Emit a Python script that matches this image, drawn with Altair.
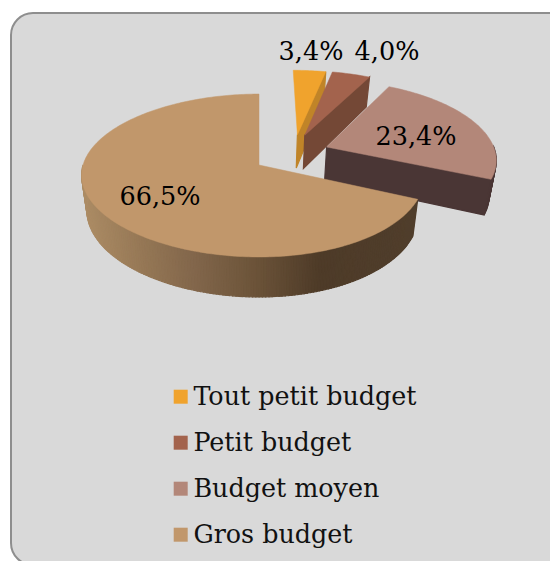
import math
import altair as alt
import pandas as pd

categories = ["Tout petit budget", "Petit budget", "Budget moyen", "Gros budget"]
shares = [3.4, 4.0, 23.4, 66.5]
labels = ["3,4%", "4,0%", "23,4%", "66,5%"]
top_colors = ["#F0A32D", "#A3634D", "#B38779", "#C1976B"]
cut_colors = ["#C08428", "#744836", "#4A3635", "#B0946B"]
rim_colors = ["#C08428", "#744836", "#4A3635", "#4F3D2B"]
explode_x = [0.23, 0.274, 0.405, 0.0]
explode_y = [0.395, 0.39, 0.231, 0.0]
radius_x = [175.5, 175.5, 172.0, 170.0]
skew_x = [0.0, 0.0, 0.0, 0.035]
label_x = [311, 387, 416, 160]
label_y = [51, 51, 136, 196]
wall_stop_x = [82, 140, 200, 260, 320, 420]
wall_stop_rgb = [(172, 140, 101), (150, 120, 86), (128, 101, 74), (106, 82, 56), (78, 59, 40), (80, 62, 44)]

FONT = "DejaVu Serif"
CX, CY, Q, P, H, SHRINK = 259.0, 165.0, 80.1, 0.129, 34.8, 0.97


def project(X, Y, i, low=False):
    d = 1 + P * Y
    sx = CX + radius_x[i] * X * (1 - skew_x[i] * X) / d
    sy = CY - Q * Y / d
    if low:
        sx = CX + (sx - CX) * SHRINK
        sy += H / d
    return sx, sy


def wall_color(sx):
    if sx <= wall_stop_x[0]:
        c = wall_stop_rgb[0]
    elif sx >= wall_stop_x[-1]:
        c = wall_stop_rgb[-1]
    else:
        for i in range(len(wall_stop_x) - 1):
            if wall_stop_x[i] <= sx <= wall_stop_x[i + 1]:
                t = (sx - wall_stop_x[i]) / (wall_stop_x[i + 1] - wall_stop_x[i])
                c = [wall_stop_rgb[i][k] + t * (wall_stop_rgb[i + 1][k] - wall_stop_rgb[i][k]) for k in range(3)]
                break
    return "#%02x%02x%02x" % tuple(int(round(v)) for v in c)


def rows_for(points, pid, **extra):
    return [{"pid": pid, "o": n, "x": x, "y": y, **extra} for n, (x, y) in enumerate(points)]


total = sum(shares)
layers = []

x_scale = alt.Scale(domain=[8, 550], range=[0, 542], nice=False, zero=False)
y_scale = alt.Scale(domain=[8, 561], range=[0, 553], nice=False, zero=False)
X_ENC = alt.X("x:Q", scale=x_scale, axis=None)
Y_ENC = alt.Y("y:Q", scale=y_scale, axis=None)

panel = pd.DataFrame([{"x": 11, "x2": 571, "y": 13, "y2": 565}])
layers.append(
    alt.Chart(panel)
    .mark_rect(fill="#D9D9D9", stroke="#8E8E8E", strokeWidth=2, cornerRadius=22)
    .encode(x=X_ENC, x2="x2:Q", y=Y_ENC, y2="y2:Q")
)

start = 0.0
for i, (cat, v) in enumerate(zip(categories, shares)):
    a0 = start
    a1 = start + 360.0 * v / total
    start = a1
    ox, oy = explode_x[i], explode_y[i]
    n = max(4, int((a1 - a0) / 1.0))
    angs = [a0 + (a1 - a0) * k / n for k in range(n + 1)]
    rim = [(ox + math.sin(math.radians(t)), oy + math.cos(math.radians(t))) for t in angs]
    vertex = (ox, oy)

    wall_rows = []
    pid = 0
    for k in range(n):
        p, q = rim[k], rim[k + 1]
        pts = [project(*p, i), project(*q, i), project(*q, i, True), project(*p, i, True)]
        if q[1] > oy:  # rear half of the rim faces away from the viewer
            continue
        col = wall_color(pts[0][0]) if i == 3 else rim_colors[i]
        wall_rows += rows_for(pts, pid, c=col)
        pid += 1
    if i < 3:
        e = rim[-1]
        wall_rows += rows_for(
            [project(*vertex, i), project(*e, i), project(*e, i, True), project(*vertex, i, True)],
            pid,
            c=cut_colors[i],
        )
        pid += 1

    if wall_rows:
        layers.append(
            alt.Chart(pd.DataFrame(wall_rows))
            .mark_line(interpolate="linear-closed", strokeWidth=1.2)
            .encode(
                x=X_ENC,
                y=Y_ENC,
                detail="pid:N",
                order="o:Q",
                stroke=alt.Stroke("c:N", scale=None, legend=None),
                fill=alt.Fill("c:N", scale=None, legend=None),
            )
        )

    top_pts = [project(*vertex, i)] + [project(*r, i) for r in rim]
    layers.append(
        alt.Chart(pd.DataFrame(rows_for(top_pts, 0, c=top_colors[i])))
        .mark_line(interpolate="linear-closed", strokeWidth=0.5)
        .encode(
            x=X_ENC,
            y=Y_ENC,
            order="o:Q",
            stroke=alt.Stroke("c:N", scale=None, legend=None),
            fill=alt.Fill("c:N", scale=None, legend=None),
        )
    )

text_df = pd.DataFrame({"x": label_x, "y": label_y, "t": labels})
layers.append(
    alt.Chart(text_df)
    .mark_text(font=FONT, fontSize=25.5, color="#000000", align="center", baseline="middle", dy=0.5)
    .encode(x=X_ENC, y=Y_ENC, text="t:N")
)

legend_df = pd.DataFrame({"cat": categories})
layers.append(
    alt.Chart(legend_df)
    .mark_square(size=196, filled=True, opacity=1)
    .encode(
        x=alt.value(-60),
        y=alt.value(-60),
        color=alt.Color(
            "cat:N",
            scale=alt.Scale(domain=categories, range=top_colors),
            legend=alt.Legend(
                orient="none",
                legendX=160,
                legendY=376,
                title=None,
                symbolType="square",
                symbolSize=196,
                symbolStrokeWidth=0,
                labelFont=FONT,
                labelFontSize=25.4,
                labelColor="#111111",
                rowPadding=19,
                labelOffset=0,
                padding=0,
                labelLimit=400,
            ),
        ),
    )
)

chart = (
    alt.layer(*layers)
    .properties(width=542, height=553, padding=0, autosize=alt.AutoSizeParams(type="none"), background="#FFFFFF")
    .configure_view(stroke=None)
)

chart.save("out.html", embed_options={"renderer": "svg", "actions": False})
